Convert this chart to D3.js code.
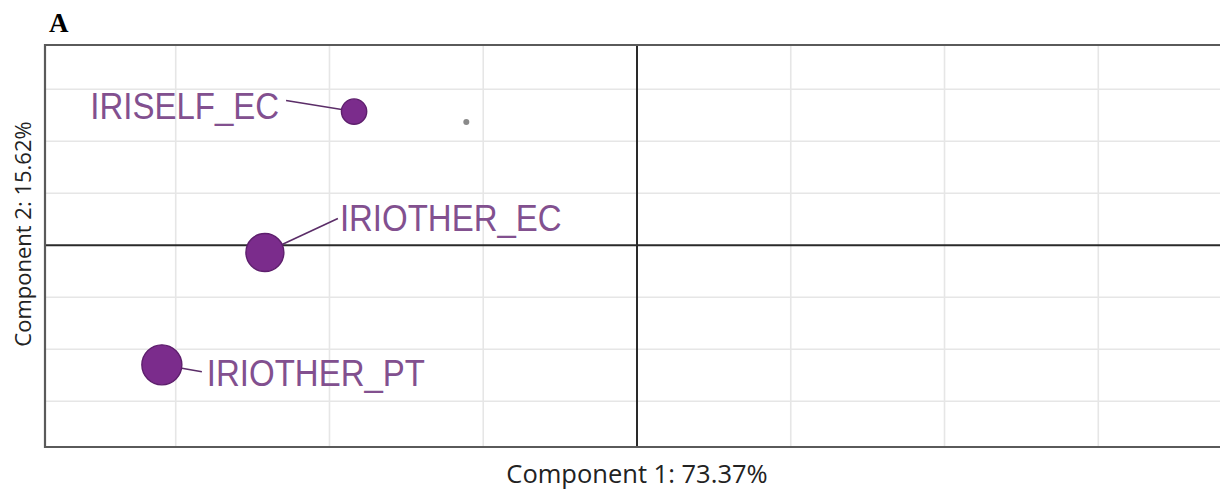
<!DOCTYPE html>
<html>
<head>
<meta charset="utf-8">
<script src="https://d3js.org/d3.v7.min.js"></script>
<style>
  body { margin: 0; background: #fff; }
  svg { display: block; }
</style>
</head>
<body>
<svg id="chart" width="1220" height="491"></svg>
<script>
// category points (component scores, in grid units)
var names = ['IRISELF_EC', 'IRIOTHER_EC', 'IRIOTHER_PT'];
var comp1 = [-1.84, -2.42, -3.09];
var comp2 = [2.57, -0.14, -2.30];
var quality = [0.40, 0.90, 1.00];   // drives point size

// supplementary point (small grey)
var suppX = [-1.11];
var suppY = [2.37];

var gridTicks = [-3, -2, -1, 1, 2, 3];
var xTitle = 'Component 1: 73.37%';
var yTitle = 'Component 2: 15.62%';

// label placement in pixels from the point (text x, baseline y, anchor, connector end)
var labelPos = [
  {dx: -75, dy: 7, anchor: 'end', lx: -68, ly: -11},
  {dx: 75, dy: -22, anchor: 'start', lx: 73, ly: -34},
  {dx: 45, dy: 21, anchor: 'start', lx: 40, ly: 7}
];

var svg = d3.select('#chart');
var pLeft = 45, pTop = 45, pBottom = 447, pRight = 1229;

var xs = d3.scaleLinear().domain([-3.85, 3.85]).range([pLeft, pRight]);
var ys = d3.scaleLinear().domain([-3.88, 3.85]).range([pBottom, pTop]);
var rs = d3.scaleSqrt().domain([0, 1]).range([0, 20]);

var g = svg.append('g');

// grid
g.selectAll('.vgrid').data(gridTicks).enter().append('line')
  .attr('x1', d => xs(d)).attr('x2', d => xs(d))
  .attr('y1', pTop).attr('y2', pBottom)
  .style('stroke', '#e6e6e6').style('stroke-width', 1.6);
g.selectAll('.hgrid').data(gridTicks).enter().append('line')
  .attr('x1', pLeft).attr('x2', pRight)
  .attr('y1', d => ys(d)).attr('y2', d => ys(d))
  .style('stroke', '#e6e6e6').style('stroke-width', 1.6);

// zero lines
g.append('line').attr('x1', xs(0)).attr('x2', xs(0)).attr('y1', pTop).attr('y2', pBottom)
  .style('stroke', '#2a2a2a').style('stroke-width', 2);
g.append('line').attr('x1', pLeft).attr('x2', pRight).attr('y1', ys(0)).attr('y2', ys(0))
  .style('stroke', '#2a2a2a').style('stroke-width', 2);

// frame (left, top, bottom)
g.append('path')
  .attr('d', 'M' + pRight + ',' + pTop + 'H' + pLeft + 'V' + pBottom + 'H' + pRight)
  .style('fill', 'none').style('stroke', '#5a5a5a').style('stroke-width', 2.2);

// supplementary point
g.selectAll('.supp').data(suppX).enter().append('circle')
  .attr('cx', d => xs(d)).attr('cy', (d, i) => ys(suppY[i]))
  .attr('r', 3).style('fill', '#8a8a8a');

var pts = names.map((n, i) => ({name: n, x: comp1[i], y: comp2[i], q: quality[i], lab: labelPos[i]}));

// connectors
g.selectAll('.conn').data(pts).enter().append('line')
  .attr('x1', d => xs(d.x)).attr('y1', d => ys(d.y))
  .attr('x2', d => xs(d.x) + d.lab.lx).attr('y2', d => ys(d.y) + d.lab.ly)
  .style('stroke', '#5b2d68').style('stroke-width', 1.6);

// points
g.selectAll('.pt').data(pts).enter().append('circle')
  .attr('cx', d => xs(d.x)).attr('cy', d => ys(d.y))
  .attr('r', d => rs(d.q))
  .style('fill', '#7b2c8c').style('stroke', '#5e1f6d').style('stroke-width', 1.4);

// labels
g.selectAll('.lab').data(pts).enter().append('text')
  .attr('transform', d => 'translate(' + (xs(d.x) + d.lab.dx) + ',' + (ys(d.y) + d.lab.dy) + ') scale(1,1.1)')
  .attr('text-anchor', d => d.lab.anchor)
  .style('font-family', '"Liberation Sans", Arial, sans-serif')
  .style('font-size', '33px')
  .style('fill', '#82508f')
  .text(d => d.name);

// axis titles
svg.append('text')
  .attr('x', xs(0)).attr('y', 483)
  .attr('text-anchor', 'middle')
  .style('font-family', '"Open Sans", sans-serif')
  .style('font-size', '25.5px')
  .style('fill', '#222')
  .text(xTitle);

svg.append('text')
  .attr('transform', 'translate(31,' + 234 + ') rotate(-90)')
  .attr('text-anchor', 'middle')
  .style('font-family', '"Open Sans", sans-serif')
  .style('font-size', '22px')
  .style('fill', '#222')
  .text(yTitle);

// panel letter
svg.append('text')
  .attr('x', 49).attr('y', 32)
  .style('font-family', '"Liberation Serif", "Times New Roman", serif')
  .style('font-weight', 'bold')
  .style('font-size', '27px')
  .style('fill', '#000')
  .text('A');
</script>
</body>
</html>
